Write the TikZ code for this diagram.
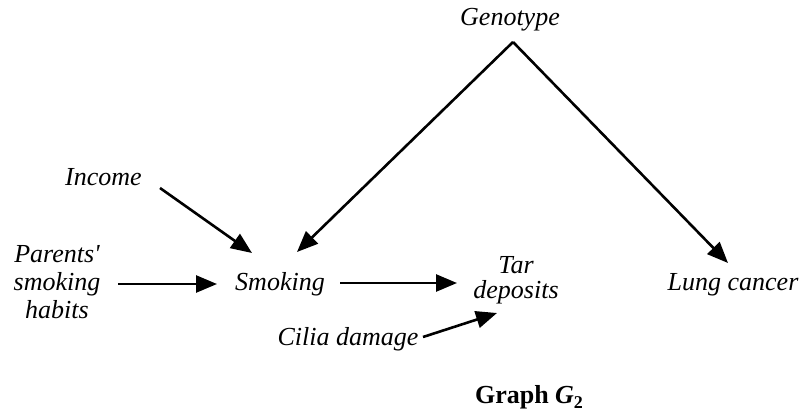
\documentclass[tikz,border=0pt]{standalone}
\usepackage{fontspec}
\setmainfont{Liberation Serif}[Ligatures=TeXOff]
\usetikzlibrary{arrows.meta,calc}
\begin{document}
\begin{tikzpicture}[x=1pt,y=-1pt,
  lbl/.style={font=\fontsize{26}{28}\selectfont\itshape, inner sep=0pt, anchor=base, align=center},
  edge/.style={line width=2.6pt, -{Triangle[length=21pt,width=17pt]}}]
\useasboundingbox (0,0) rectangle (802,416);
\node[lbl] (geno) at (510,25) {Genotype};
\node[lbl] (income) at (103.5,185) {Income};
\node[lbl] (parents) at (57,318) {Parents'\\smoking\\habits};
\node[lbl] (smoking) at (280,290) {Smoking};
\node[lbl] (tar) at (516,298) {Tar\\[-3pt]deposits};
\node[lbl] (lung) at (733,290) {Lung cancer};
\node[lbl] (cilia) at (348,345) {Cilia damage};
\node[inner sep=0pt, anchor=base, font=\fontsize{26}{28}\selectfont\bfseries] (title) at (529,403) {Graph \textit{G}\raisebox{-5pt}{\fontsize{18}{18}\selectfont 2}};
\coordinate (apex) at ($(geno.base)+(3,17)$);
\draw[edge] (apex) -- ($(smoking.base)+(17,-38)$);
\draw[edge] (apex) -- ($(lung.base)+(-5,-27)$);
\draw[edge] ($(income.base)+(56.5,3)$) -- ($(smoking.base)+(-28,-37)$);
\draw[edge] ($(parents.base)+(61,-34)$) -- ($(smoking.base)+(-63,-6)$);
\draw[edge] ($(smoking.base)+(60,-7)$) -- ($(tar.base)+(-59,-15)$);
\draw[edge] ($(cilia.base)+(75,-8)$) -- ($(tar.base)+(-19,15)$);
\end{tikzpicture}
\end{document}
